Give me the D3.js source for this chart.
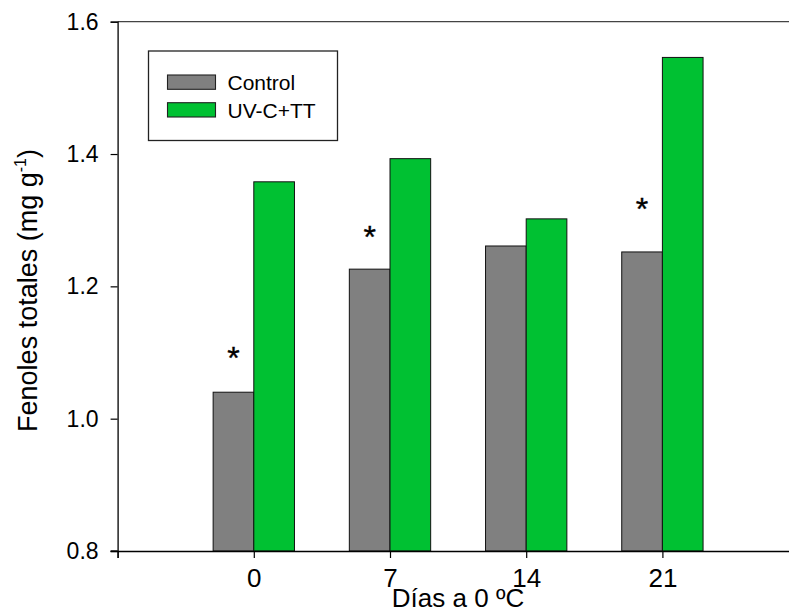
<!DOCTYPE html>
<html>
<head>
<meta charset="utf-8">
<script src="https://cdn.jsdelivr.net/npm/d3@7"></script>
<style>
  html, body { margin: 0; padding: 0; background: #fff; }
  svg { display: block; font-family: "Liberation Sans", Arial, sans-serif; }
</style>
</head>
<body>
<svg id="chart" width="789" height="613"></svg>
<script>
// Days of storage at 0 °C
const days = [0, 7, 14, 21];
// Total phenolics (mg g-1) for each treatment
const controlValues = [1.040, 1.226, 1.261, 1.252];
const uvcValues = [1.358, 1.393, 1.302, 1.546];
// Significant difference markers (value level where the asterisk sits; null = none)
const starLevels = [1.100, 1.282, null, 1.325];
// Axis ticks
const yTicks = [0.8, 1.0, 1.2, 1.4, 1.6];
const xTicks = [-7, 0, 7, 14, 21, 28];
const xTickLabels = ["", "0", "7", "14", "21", ""];
const seriesNames = ["Control", "UV-C+TT"];
const seriesColors = ["#808080", "#00c132"];

const svg = d3.select("#chart");

const x = d3.scaleLinear().domain([-7, 28]).range([117.6, 798.6]);
const y = d3.scaleLinear().domain([0.8, 1.6]).range([551, 21.7]);
const barDays = 2.09; // width of one bar in day units

// Top frame line
svg.append("line")
  .attr("x1", x(-7)).attr("x2", x(28))
  .attr("y1", y(1.6)).attr("y2", y(1.6))
  .attr("stroke", "#444").attr("stroke-width", 1.3);

// Bars
const rows = days.map((d, i) => ({ day: d, values: [controlValues[i], uvcValues[i]], star: starLevels[i] }));
const groups = svg.append("g").selectAll("g").data(rows).join("g");
groups.selectAll("rect")
  .data(r => r.values.map((v, k) => ({ day: r.day, v, k })))
  .join("rect")
  .attr("x", d => d.k === 0 ? x(d.day - barDays) : x(d.day))
  .attr("width", x(barDays) - x(0))
  .attr("y", d => y(d.v))
  .attr("height", d => y(0.8) - y(d.v))
  .attr("fill", d => seriesColors[d.k])
  .attr("stroke", "#111")
  .attr("stroke-width", 1);

// Significance asterisks
svg.append("g").selectAll("text")
  .data(rows.filter(r => r.star !== null))
  .join("text")
  .attr("x", r => x(r.day - barDays / 2))
  .attr("y", r => y(r.star) + 16)
  .attr("text-anchor", "middle")
  .attr("font-size", 32)
  .attr("stroke", "#000")
  .attr("stroke-width", 0.4)
  .attr("fill", "#000")
  .text("*");

// Y axis
const yAxis = svg.append("g")
  .attr("transform", `translate(${x(-7)},0)`)
  .call(d3.axisLeft(y).tickValues(yTicks).tickFormat(d3.format(".1f")).tickSizeOuter(0).tickSize(7).tickPadding(12));
yAxis.select(".domain").attr("stroke", "#000").attr("stroke-width", 1.3);
yAxis.selectAll(".tick line").attr("stroke", "#000").attr("stroke-width", 1.2);
yAxis.selectAll(".tick text").attr("font-size", 23).attr("font-family", "Liberation Sans, Arial, sans-serif").attr("fill", "#000");

// X axis
const xAxis = svg.append("g")
  .attr("transform", `translate(0,${y(0.8)})`)
  .call(d3.axisBottom(x).tickValues(xTicks).tickFormat((d, i) => xTickLabels[i]).tickSizeOuter(0).tickSize(7).tickPadding(10));
xAxis.select(".domain").attr("stroke", "#000").attr("stroke-width", 1.3);
xAxis.selectAll(".tick line").attr("stroke", "#000").attr("stroke-width", 1.2);
xAxis.selectAll(".tick text")
  .attr("font-size", 26).attr("font-family", "Liberation Sans, Arial, sans-serif").attr("fill", "#000")
  .attr("dy", null).attr("y", 36);
// extend the baseline left to meet the lowest y tick
svg.append("line")
  .attr("x1", x(-7) - 7).attr("x2", x(-7))
  .attr("y1", y(0.8)).attr("y2", y(0.8))
  .attr("stroke", "#000").attr("stroke-width", 1.3);

// Axis titles
svg.append("text")
  .attr("x", 458)
  .attr("y", 607)
  .attr("text-anchor", "middle")
  .attr("font-size", 26)
  .text("Días a 0 ºC");

const yTitle = svg.append("text")
  .attr("transform", `translate(37,${(148 + 433) / 2}) rotate(-90)`)
  .attr("text-anchor", "middle")
  .attr("font-size", 27);
yTitle.append("tspan").text("Fenoles totales (mg g");
yTitle.append("tspan").attr("font-size", 16).attr("dy", -11).text("-1");
yTitle.append("tspan").attr("dy", 11).text(")");

// Legend
const legend = svg.append("g");
legend.append("rect")
  .attr("x", 148.5).attr("y", 51).attr("width", 189).attr("height", 89.5)
  .attr("fill", "#fff").attr("stroke", "#222").attr("stroke-width", 1.3);
const items = legend.selectAll("g.item").data(seriesNames).join("g")
  .attr("transform", (d, i) => `translate(167.5,${75 + i * 27.7})`);
items.append("rect")
  .attr("width", 48).attr("height", 14.3)
  .attr("fill", (d, i) => seriesColors[i])
  .attr("stroke", "#222").attr("stroke-width", 1.1);
items.append("text")
  .attr("x", 60).attr("y", 15)
  .attr("font-size", 21)
  .text(d => d);
</script>
</body>
</html>
